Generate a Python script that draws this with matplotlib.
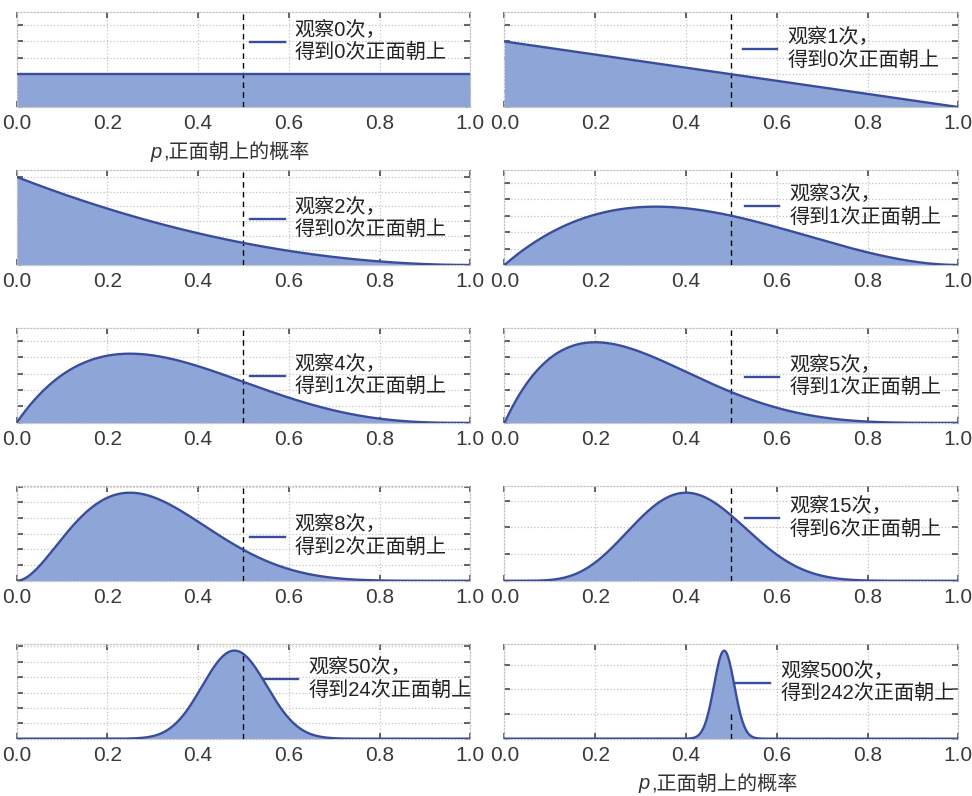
import math
import numpy as np
import matplotlib
matplotlib.use("Agg")
import matplotlib.pyplot as plt
from matplotlib.ticker import MaxNLocator, FixedLocator
from matplotlib.offsetbox import TextArea, HPacker, AnchoredOffsetbox

plt.rcParams['font.family'] = ['Liberation Sans', 'Noto Sans CJK SC', 'DejaVu Sans']

# ---- data (read from the legends) ----
n_trials = [0, 1, 2, 3, 4, 5, 8, 15, 50, 500]
n_heads = [0, 0, 0, 1, 1, 1, 2, 6, 24, 242]
x_ticks = [0.0, 0.2, 0.4, 0.6, 0.8, 1.0]
x_tick_labels = ["0.0", "0.2", "0.4", "0.6", "0.8", "1.0"]
xlabel_var = "p"
xlabel_rest = ",正面朝上的概率"

# ---- layout / style ----
legend_anchor_x = [0.515, 0.525, 0.515, 0.53, 0.515, 0.53, 0.515, 0.53, 0.545, 0.51]
legend_anchor_y = [0.69, 0.61, 0.49, 0.62, 0.50, 0.49, 0.47, 0.66, 0.63, 0.59]
line_color = '#3a4c9e'
fill_color = '#8ea5d8'
grid_color = '#c4c4c4'
fam = ['Liberation Sans', 'Noto Sans CJK SC', 'DejaVu Sans']


def beta_pdf(x, a, b):
    logc = math.lgamma(a + b) - math.lgamma(a) - math.lgamma(b)
    with np.errstate(divide='ignore', invalid='ignore'):
        t1 = np.where(a - 1 == 0, 0.0, (a - 1) * np.log(np.where(x > 0, x, 1e-300)))
        t2 = np.where(b - 1 == 0, 0.0, (b - 1) * np.log(np.where(x < 1, 1 - x, 1e-300)))
    return np.exp(logc + t1 + t2)


x = np.linspace(0, 1, 600)

fig, axes = plt.subplots(5, 2, figsize=(9.72, 7.96), dpi=100)
fig.subplots_adjust(left=0.017, right=0.986, top=0.985, bottom=0.072,
                    wspace=0.075, hspace=0.66)
axes = axes.ravel()

for k, (N, h) in enumerate(zip(n_trials, n_heads)):
    ax = axes[k]
    y = beta_pdf(x, 1 + h, 1 + N - h)
    ytop = max(2.9, 1.08 * y.max())
    ax.fill_between(x, 0, y, color=fill_color, lw=0, zorder=2)
    ax.plot(x, y, color=line_color, lw=1.7, zorder=4,
            label="观察%d次，\n得到%d次正面朝上" % (N, h))
    ax.vlines(0.5, 0, 5.5, colors='k', linestyles=(0, (4, 3)), lw=1.0, zorder=3)
    ax.set_xlim(0, 1)
    ax.set_ylim(0, ytop)
    ax.xaxis.set_major_locator(FixedLocator(x_ticks))
    ax.set_xticklabels(x_tick_labels)
    ax.yaxis.set_major_locator(MaxNLocator(nbins=7, steps=[1, 2, 2.5, 5, 10]))
    ax.tick_params(axis='both', direction='in', length=4, width=1.1, color='#3a3a3a',
                   top=True, right=True, labelleft=False, labelsize=15,
                   labelcolor='#3a3a3a', pad=5)
    ax.grid(True, linestyle=':', color=grid_color, lw=0.9, zorder=0)
    ax.set_axisbelow(True)
    for s in ax.spines.values():
        s.set_linestyle(':')
        s.set_color(grid_color)
        s.set_linewidth(0.9)
    leg = ax.legend(loc='center left',
                    bbox_to_anchor=(legend_anchor_x[k], legend_anchor_y[k]),
                    frameon=False, borderpad=0, borderaxespad=0,
                    handlelength=1.7, handletextpad=0.5, fontsize=14.5)
    for t in leg.get_texts():
        t.set_color('#222222')
    if k in (0, len(n_trials) - 1):
        t1 = TextArea(xlabel_var, textprops=dict(family=fam, style='italic',
                                                 fontsize=14.5, color='#333333'))
        t2 = TextArea(xlabel_rest, textprops=dict(family=fam, fontsize=14.5,
                                                  color='#333333'))
        box = HPacker(children=[t1, t2], align='baseline', pad=0, sep=1)
        anch = AnchoredOffsetbox(loc='center', child=box, pad=0, frameon=False,
                                 bbox_to_anchor=(0.47, -0.47),
                                 bbox_transform=ax.transAxes, borderpad=0)
        ax.add_artist(anch)

fig.savefig("out.png", dpi=100)
